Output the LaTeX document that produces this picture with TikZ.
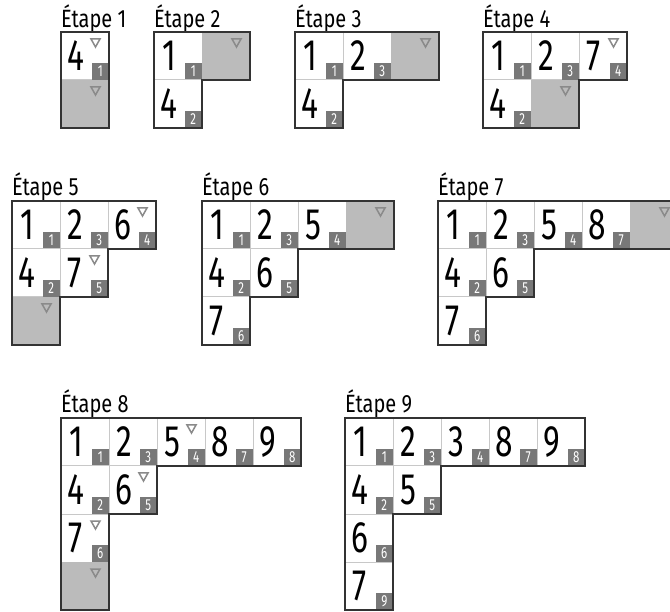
\documentclass[tikz,border=0pt]{standalone}
\usepackage{fontspec}
\newfontfamily\uf[FakeStretch=0.8]{Fira Sans}
\newfontfamily\ufd[FakeStretch=0.72]{Fira Sans}
\definecolor{lightline}{HTML}{C8C8C8}
\definecolor{cellgrey}{HTML}{BBBBBB}
\definecolor{idxgrey}{HTML}{787878}
\definecolor{trigrey}{HTML}{8A8A8A}
\definecolor{outline}{HTML}{333333}
\tikzset{
  cellbox/.style={draw=lightline, line width=1pt, fill=white, minimum size=48pt, inner sep=0pt, outer sep=0pt, anchor=north west},
  greybox/.style={fill=cellgrey, minimum size=48pt, inner sep=0pt, outer sep=0pt, anchor=north west},
  digit/.style={font=\ufd\fontsize{44}{44}\selectfont, inner sep=0pt, anchor=center},
  idxbox/.style={fill=idxgrey, minimum width=17pt, minimum height=17pt, inner sep=0pt, anchor=south east, text=white, font=\ufd\fontsize{16}{16}\selectfont},
  tri/.style={draw=trigrey, line width=1.5pt, line join=miter},
  outl/.style={draw=outline, line width=1.5pt, line join=miter},
  lbl/.style={font=\uf\fontsize{25}{25}\selectfont, anchor=base west, inner sep=0pt}
}
\newcommand\wc[6]{%
  \node[cellbox] (#1) at (#2*48,#3*48) {};
  \node[digit] (#1d) at ([xshift=-9pt]#1.center) {#4};
  \node[idxbox] (#1i) at (#1.south east) {#5};
  \ifnum#6=1 \draw[tri] ([xshift=-18pt,yshift=-7pt]#1.north east) -- ++(9,0) -- ++(-4.5,8) -- cycle;\fi
}
\newcommand\gc[3]{%
  \node[greybox] (#1) at (#2*48,#3*48) {};
  \draw[tri] ([xshift=-18pt,yshift=-7pt]#1.north east) -- ++(9,0) -- ++(-4.5,8) -- cycle;
}
\begin{document}
\begin{tikzpicture}[x=1pt,y=-1pt]
\useasboundingbox (0,0) rectangle (670,612);
\clip (0,0) rectangle (670,612);
% Etape 1
\begin{scope}[shift={(61,32)}]
\node[lbl] (L1) at (0,-4.5) {Étape 1};
\wc{a1}{0}{0}{4}{1}{1}
\gc{a2}{0}{1}
\draw[outl,x=48pt,y=-48pt] (0,0) -- (1,0) -- (1,2) -- (0,2) -- cycle;
\end{scope}
% Etape 2
\begin{scope}[shift={(154,32)}]
\node[lbl] (L2) at (0,-4.5) {Étape 2};
\wc{b1}{0}{0}{1}{1}{0}
\gc{b2}{1}{0}
\wc{b3}{0}{1}{4}{2}{0}
\draw[outl,x=48pt,y=-48pt] (0,0) -- (2,0) -- (2,1) -- (1,1) -- (1,2) -- (0,2) -- cycle;
\end{scope}
% Etape 3
\begin{scope}[shift={(295,32)}]
\node[lbl] (L3) at (0,-4.5) {Étape 3};
\wc{c1}{0}{0}{1}{1}{0}
\wc{c2}{1}{0}{2}{3}{0}
\gc{c3}{2}{0}
\wc{c4}{0}{1}{4}{2}{0}
\draw[outl,x=48pt,y=-48pt] (0,0) -- (3,0) -- (3,1) -- (1,1) -- (1,2) -- (0,2) -- cycle;
\end{scope}
% Etape 4
\begin{scope}[shift={(483,32)}]
\node[lbl] (L4) at (0,-4.5) {Étape 4};
\wc{d1}{0}{0}{1}{1}{0}
\wc{d2}{1}{0}{2}{3}{0}
\wc{d3}{2}{0}{7}{4}{1}
\wc{d4}{0}{1}{4}{2}{0}
\gc{d5}{1}{1}
\draw[outl,x=48pt,y=-48pt] (0,0) -- (3,0) -- (3,1) -- (2,1) -- (2,2) -- (0,2) -- cycle;
\end{scope}
% Etape 5
\begin{scope}[shift={(12,201)}]
\node[lbl] (L5) at (0,-5) {Étape 5};
\wc{e1}{0}{0}{1}{1}{0}
\wc{e2}{1}{0}{2}{3}{0}
\wc{e3}{2}{0}{6}{4}{1}
\wc{e4}{0}{1}{4}{2}{0}
\wc{e5}{1}{1}{7}{5}{1}
\gc{e6}{0}{2}
\draw[outl,x=48pt,y=-48pt] (0,0) -- (3,0) -- (3,1) -- (2,1) -- (2,2) -- (1,2) -- (1,3) -- (0,3) -- cycle;
\end{scope}
% Etape 6
\begin{scope}[shift={(202,201)}]
\node[lbl] (L6) at (0,-5) {Étape 6};
\wc{f1}{0}{0}{1}{1}{0}
\wc{f2}{1}{0}{2}{3}{0}
\wc{f3}{2}{0}{5}{4}{0}
\gc{f4}{3}{0}
\wc{f5}{0}{1}{4}{2}{0}
\wc{f6}{1}{1}{6}{5}{0}
\wc{f7}{0}{2}{7}{6}{0}
\draw[outl,x=48pt,y=-48pt] (0,0) -- (4,0) -- (4,1) -- (2,1) -- (2,2) -- (1,2) -- (1,3) -- (0,3) -- cycle;
\end{scope}
% Etape 7
\begin{scope}[shift={(438,201)}]
\node[lbl] (L7) at (0,-5) {Étape 7};
\wc{g1}{0}{0}{1}{1}{0}
\wc{g2}{1}{0}{2}{3}{0}
\wc{g3}{2}{0}{5}{4}{0}
\wc{g4}{3}{0}{8}{7}{0}
\gc{g5}{4}{0}
\wc{g6}{0}{1}{4}{2}{0}
\wc{g7}{1}{1}{6}{5}{0}
\wc{g8}{0}{2}{7}{6}{0}
\draw[outl,x=48pt,y=-48pt] (0,0) -- (5,0) -- (5,1) -- (2,1) -- (2,2) -- (1,2) -- (1,3) -- (0,3) -- cycle;
\end{scope}
% Etape 8
\begin{scope}[shift={(61,418)}]
\node[lbl] (L8) at (0,-5.5) {Étape 8};
\wc{h1}{0}{0}{1}{1}{0}
\wc{h2}{1}{0}{2}{3}{0}
\wc{h3}{2}{0}{5}{4}{1}
\wc{h4}{3}{0}{8}{7}{0}
\wc{h5}{4}{0}{9}{8}{0}
\wc{h6}{0}{1}{4}{2}{0}
\wc{h7}{1}{1}{6}{5}{1}
\wc{h8}{0}{2}{7}{6}{1}
\gc{h9}{0}{3}
\draw[outl,x=48pt,y=-48pt] (0,0) -- (5,0) -- (5,1) -- (2,1) -- (2,2) -- (1,2) -- (1,4) -- (0,4) -- cycle;
\end{scope}
% Etape 9
\begin{scope}[shift={(345,418)}]
\node[lbl] (L9) at (0,-5.5) {Étape 9};
\wc{i1}{0}{0}{1}{1}{0}
\wc{i2}{1}{0}{2}{3}{0}
\wc{i3}{2}{0}{3}{4}{0}
\wc{i4}{3}{0}{8}{7}{0}
\wc{i5}{4}{0}{9}{8}{0}
\wc{i6}{0}{1}{4}{2}{0}
\wc{i7}{1}{1}{5}{5}{0}
\wc{i8}{0}{2}{6}{6}{0}
\wc{i9}{0}{3}{7}{9}{0}
\draw[outl,x=48pt,y=-48pt] (0,0) -- (5,0) -- (5,1) -- (2,1) -- (2,2) -- (1,2) -- (1,4) -- (0,4) -- cycle;
\end{scope}
\end{tikzpicture}
\end{document}
